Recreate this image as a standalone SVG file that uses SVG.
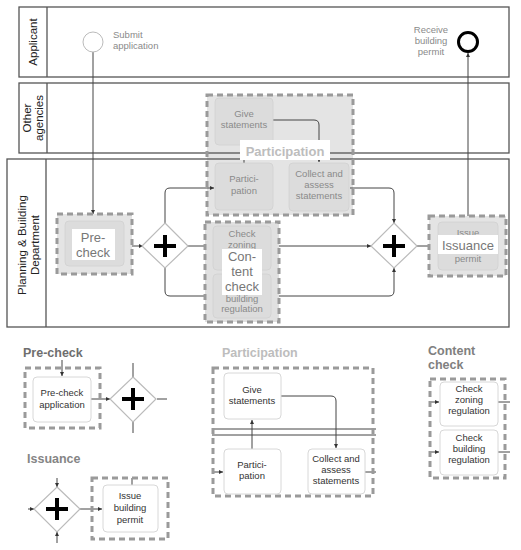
<svg xmlns="http://www.w3.org/2000/svg" width="521" height="550" viewBox="0 0 521 550">
<defs>
<marker id="ah" viewBox="0 0 6 6" refX="6" refY="3" markerWidth="4" markerHeight="4" orient="auto" markerUnits="userSpaceOnUse"><path d="M0,0 L6,3 L0,6 z" fill="#333"/></marker>
</defs>
<style>
.lane{fill:none;stroke:#555;stroke-width:1.3}
.ll{font-family:"Liberation Sans",Arial,sans-serif;font-size:11.5px;fill:#222;text-anchor:middle}
.grp{stroke:#9a9a9a;stroke-width:3;stroke-dasharray:6 4}
.gfill{fill:#e4e4e4}
.tk{fill:#dcdcdc;stroke:#d0d0d0;stroke-width:0.8}
.tkw{fill:#fff;stroke:#d8d8d8;stroke-width:1}
.t{font-family:"Liberation Sans",Arial,sans-serif;font-size:9.5px;text-anchor:middle;fill:#333}
.tg{font-family:"Liberation Sans",Arial,sans-serif;font-size:9.5px;text-anchor:middle;fill:#8a8a8a}
.big{font-family:"Liberation Sans",Arial,sans-serif;font-size:13px;text-anchor:middle;fill:#777}
.lbl{fill:#fff}
.hd{font-family:"Liberation Sans",Arial,sans-serif;font-size:12.5px;font-weight:bold}
.gw{fill:#fff;stroke:#bbb;stroke-width:1.2}
.plus{stroke:#000;stroke-width:4;fill:none}
.c{fill:none;stroke:#444;stroke-width:1}
.ca{fill:none;stroke:#444;stroke-width:1;marker-end:url(#ah)}
</style>

<g id="participation-fill">
<rect class="gfill" x="207" y="95" width="146" height="120"/>
</g>

<g id="lane-applicant">
<rect class="lane" x="19" y="7" width="490" height="70"/>
<line class="lane" x1="47" y1="7" x2="47" y2="77"/>
<text class="ll" transform="translate(37,42) rotate(-90)">Applicant</text>
</g>
<g id="lane-agencies">
<rect class="lane" x="19" y="83" width="490" height="70"/>
<line class="lane" x1="47" y1="83" x2="47" y2="153"/>
<text class="ll" transform="translate(31,118) rotate(-90)">Other</text>
<text class="ll" transform="translate(43,118) rotate(-90)">agencies</text>
</g>
<g id="lane-planning">
<rect class="lane" x="7" y="159" width="502" height="168"/>
<line class="lane" x1="46" y1="159" x2="46" y2="327"/>
<text class="ll" transform="translate(26,245) rotate(-90)">Planning &amp; Building</text>
<text class="ll" transform="translate(39,245) rotate(-90)">Department</text>
</g>

<g id="connectors">
<path class="ca" d="M93,52 V214"/>
<path class="ca" d="M132,246 H143"/>
<path class="ca" d="M165,223 V193 Q165,188 170,188 H214"/>
<path class="ca" d="M188,246 H213"/>
<path class="ca" d="M165,268 V291 Q165,296 170,296 H213"/>
<path class="ca" d="M273,120 H314 Q319,120 319,125 V162"/>
<path class="ca" d="M244,163 V146"/>
<path class="ca" d="M350,188 H389 Q394,188 394,193 V223"/>
<path class="ca" d="M271,246 H371"/>
<path class="ca" d="M271,296 H389 Q394,296 394,291 V268"/>
<path class="ca" d="M417,246 H437"/>
<path class="ca" d="M468,222 V53"/>
<path class="ca" d="M62,360 V376"/>
<path class="ca" d="M91,399 H110"/>
<path class="c" d="M133,363 V377 M133,422 V433 M157,399 H167"/>
<path class="ca" d="M57,478 V487"/>
<path class="ca" d="M57,543 V532"/>
<path class="ca" d="M28,509 H34"/>
<path class="ca" d="M79,509 H102"/>
<path class="c" d="M132,478 V485"/>
<path class="ca" d="M213,472 H223"/>
<path class="ca" d="M252,449 V420"/>
<path class="ca" d="M281,396 H331 Q336,396 336,401 V448"/>
<path class="c" d="M365,472 H376"/>
<path class="c" d="M212,429 H376 M212,435 H376"/>
<path class="ca" d="M430,402 H439"/>
<path class="ca" d="M430,452 H439"/>
<path class="c" d="M498,402 H510 M498,452 H510"/>
</g>

<g id="start-event">
<circle cx="93" cy="42" r="10" fill="#fff" stroke="#bbb" stroke-width="1"/>
<text class="tg" x="113" y="38" style="text-anchor:start">Submit</text>
<text class="tg" x="113" y="49" style="text-anchor:start">application</text>
</g>
<g id="end-event">
<circle cx="468" cy="42" r="9.5" fill="#fff" stroke="#000" stroke-width="3"/>
<text class="tg" x="431" y="33">Receive</text>
<text class="tg" x="431" y="44">building</text>
<text class="tg" x="431" y="55">permit</text>
</g>

<g id="participation">
<rect class="grp" x="207" y="95" width="146" height="120" fill="none"/>
<rect class="tk" x="215" y="98" width="58" height="47" rx="4"/>
<text class="tg" x="244" y="117">Give</text>
<text class="tg" x="244" y="128">statements</text>
<rect class="tk" x="215" y="163" width="58" height="47" rx="4"/>
<text class="tg" x="244" y="182">Partici-</text>
<text class="tg" x="244" y="194">pation</text>
<rect class="tk" x="289" y="163" width="60" height="48" rx="4"/>
<text class="tg" x="319" y="177">Collect and</text>
<text class="tg" x="319" y="188">assess</text>
<text class="tg" x="319" y="199">statements</text>
<rect class="lbl" x="240" y="140" width="90" height="20"/>
<text class="big" x="285" y="156" font-size="14.5" font-weight="bold" style="fill:#bdbdbd">Participation</text>
</g>

<g id="pre-check">
<rect class="grp gfill" x="57" y="214" width="75" height="60"/>
<rect class="tk" x="65" y="221" width="59" height="45" rx="4"/>
<rect class="lbl" x="72" y="229" width="43" height="31"/>
<text class="big" x="93" y="242">Pre-</text>
<text class="big" x="93" y="257">check</text>
</g>

<g id="content-check">
<rect class="grp" x="205" y="222" width="74" height="100" fill="#e0e0e0"/>
<rect class="tk" x="213" y="226" width="58" height="44" rx="4"/>
<text class="tg" x="242" y="237">Check</text>
<text class="tg" x="242" y="248">zoning</text>
<rect class="tk" x="213" y="274" width="58" height="44" rx="4"/>
<text class="tg" x="242" y="302">building</text>
<text class="tg" x="242" y="312">regulation</text>
<rect class="lbl" x="222" y="249" width="40" height="46"/>
<text class="big" x="242" y="261">Con-</text>
<text class="big" x="242" y="276">tent</text>
<text class="big" x="242" y="291">check</text>
</g>

<g id="issuance">
<rect class="grp gfill" x="429" y="216" width="77" height="60"/>
<rect class="tk" x="438" y="222" width="60" height="48" rx="4"/>
<text class="tg" x="468" y="236">Issue</text>
<text class="tg" x="468" y="262">permit</text>
<rect class="lbl" x="438" y="235" width="60" height="19"/>
<text class="big" x="468" y="250" font-size="14">Issuance</text>
</g>

<g id="gateway-split">
<path class="gw" d="M165,223 L188,246 L165,268 L142,246 z"/>
<path class="plus" d="M165,235 V257 M154,246 H176"/>
</g>
<g id="gateway-join">
<path class="gw" d="M394,223 L417,246 L394,268 L371,246 z"/>
<path class="plus" d="M394,235 V257 M383,246 H405"/>
</g>

<g id="legend-pre-check">
<text class="hd" x="23" y="357" fill="#6e6e6e">Pre-check</text>
<rect class="grp" x="25" y="368" width="75" height="60" fill="none"/>
<rect class="tkw" x="33" y="377" width="58" height="45" rx="4"/>
<text class="t" x="62" y="396">Pre-check</text>
<text class="t" x="62" y="408">application</text>
<path class="gw" d="M133,377 L156,399 L133,422 L110,399 z"/>
<path class="plus" d="M133,388 V410 M122,399 H144"/>
</g>

<g id="legend-issuance">
<text class="hd" x="27" y="463" fill="#858585">Issuance</text>
<path class="gw" d="M57,487 L80,509 L57,532 L34,509 z"/>
<path class="plus" d="M57,498 V520 M46,509 H68"/>
<rect class="grp" x="92" y="478" width="76" height="61" fill="none"/>
<rect class="tkw" x="103" y="485" width="55" height="47" rx="4"/>
<text class="t" x="130" y="499">Issue</text>
<text class="t" x="130" y="511">building</text>
<text class="t" x="130" y="523">permit</text>
</g>

<g id="legend-participation">
<text class="hd" x="222" y="357" fill="#bdbdbd">Participation</text>
<rect class="grp" x="213" y="368" width="160" height="128" fill="none"/>
<rect class="tkw" x="224" y="373" width="57" height="46" rx="4"/>
<text class="t" x="252" y="393">Give</text>
<text class="t" x="252" y="404">statements</text>
<rect class="tkw" x="224" y="449" width="57" height="45" rx="4"/>
<text class="t" x="252" y="468">Partici-</text>
<text class="t" x="252" y="479">pation</text>
<rect class="tkw" x="308" y="449" width="57" height="45" rx="4"/>
<text class="t" x="336" y="462">Collect and</text>
<text class="t" x="336" y="473">assess</text>
<text class="t" x="336" y="484">statements</text>
</g>

<g id="legend-content-check">
<text class="hd" x="428" y="355" fill="#808080">Content</text>
<text class="hd" x="428" y="369" fill="#808080">check</text>
<rect class="grp" x="430" y="379" width="75" height="99" fill="none"/>
<rect class="tkw" x="440" y="382" width="58" height="44" rx="4"/>
<text class="t" x="469" y="392">Check</text>
<text class="t" x="469" y="403">zoning</text>
<text class="t" x="469" y="414">regulation</text>
<rect class="tkw" x="440" y="430" width="58" height="45" rx="4"/>
<text class="t" x="469" y="441">Check</text>
<text class="t" x="469" y="452">building</text>
<text class="t" x="469" y="463">regulation</text>
</g>
</svg>
